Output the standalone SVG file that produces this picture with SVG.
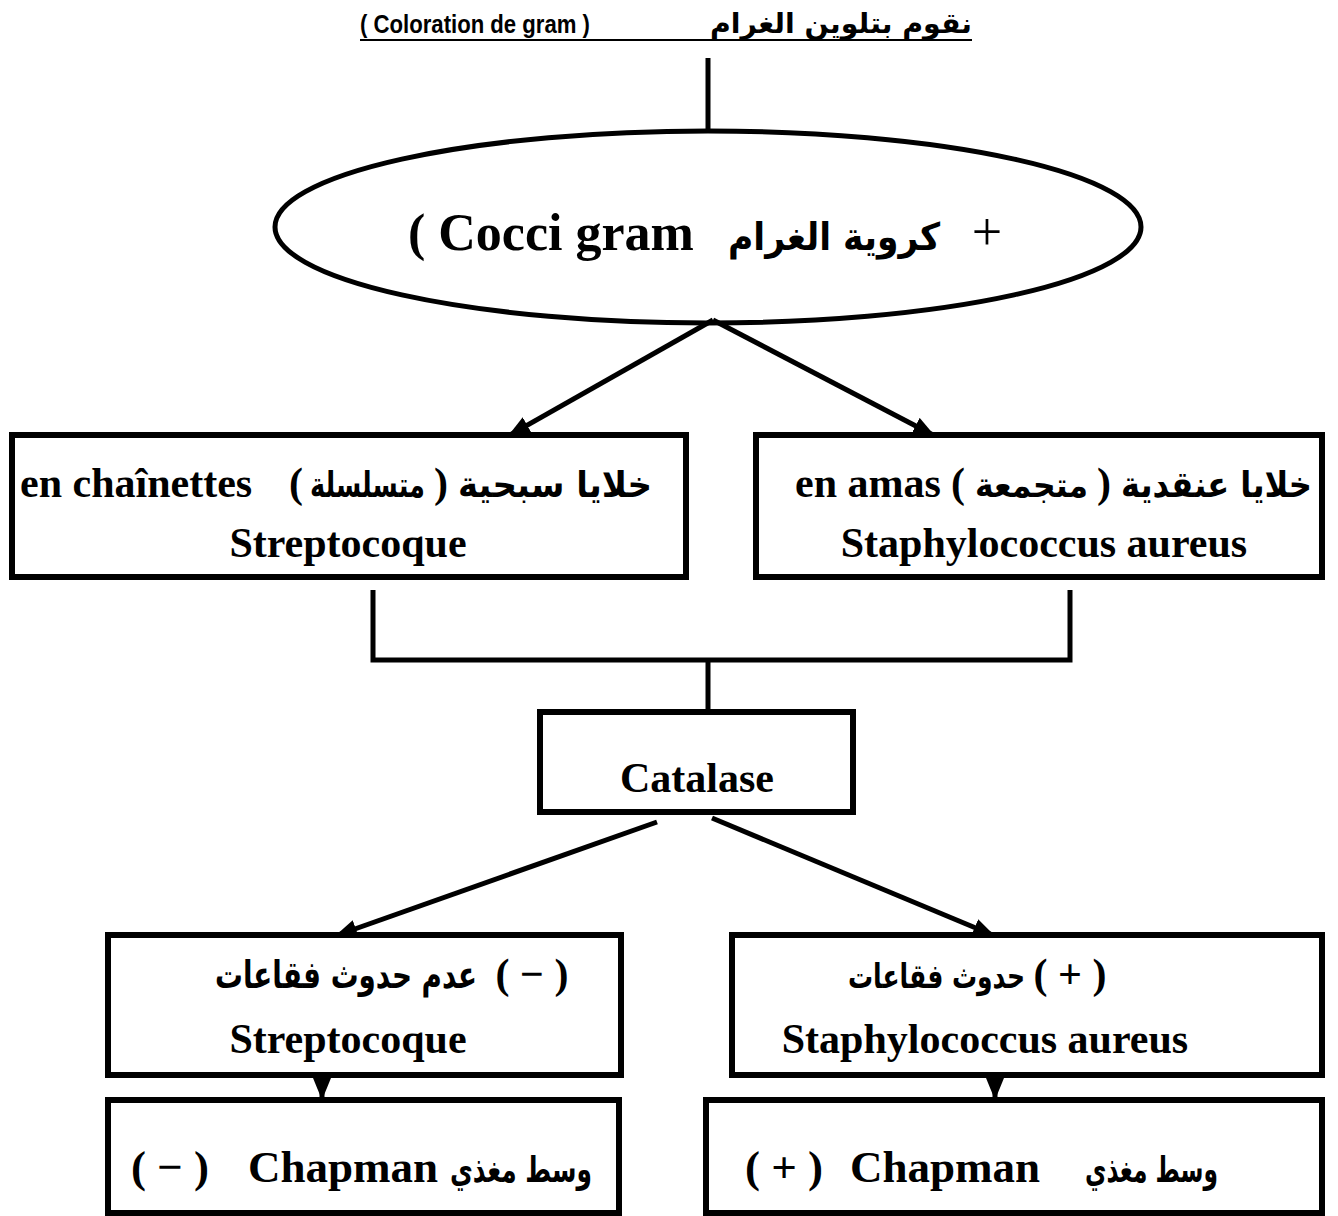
<svg xmlns="http://www.w3.org/2000/svg" width="1338" height="1216" viewBox="0 0 1338 1216">
  <style>
    .box { fill: #fff; stroke: #000; stroke-width: 6; }
    .ln { fill: none; stroke: #000; stroke-width: 5; }
    .lat { font-family: "Liberation Serif", "Times New Roman", serif; font-weight: bold; font-size: 42px; fill: #000; }
    .ar { font-family: "DejaVu Sans", sans-serif; font-weight: bold; font-size: 36px; fill: #000; }
    .ttl { font-family: "Liberation Sans", Arial, sans-serif; font-weight: bold; font-size: 26px; fill: #000; }
  </style>
  <defs>
    <marker id="ah" markerUnits="userSpaceOnUse" markerWidth="26" markerHeight="20" refX="22" refY="9" orient="auto">
      <path d="M0,0 L22,9 L0,18 z" fill="#000"/>
    </marker>
  </defs>
  <rect width="1338" height="1216" fill="#fff"/>

  <!-- title -->
  <g id="title">
    <text class="ttl" x="360" y="33" textLength="230" lengthAdjust="spacingAndGlyphs">( Coloration de gram )</text>
    <text class="ar" x="710" y="33" textLength="262" lengthAdjust="spacingAndGlyphs" style="font-size:28px">نقوم بتلوين الغرام</text>
    <line x1="360" y1="40" x2="972" y2="40" stroke="#000" stroke-width="2"/>
  </g>

  <!-- connectors -->
  <g id="connectors">
    <line class="ln" x1="708" y1="58" x2="708" y2="132"/>
    <line class="ln" x1="713" y1="320" x2="508" y2="436" marker-end="url(#ah)"/>
    <line class="ln" x1="713" y1="320" x2="935" y2="436" marker-end="url(#ah)"/>
    <polyline class="ln" points="373,590 373,660 1070,660 1070,590"/>
    <line class="ln" x1="708" y1="660" x2="708" y2="712"/>
    <line class="ln" x1="657" y1="822" x2="335" y2="936" marker-end="url(#ah)"/>
    <line class="ln" x1="712" y1="818" x2="995" y2="936" marker-end="url(#ah)"/>
    <line class="ln" x1="322" y1="1040" x2="322" y2="1100" marker-end="url(#ah)"/>
    <line class="ln" x1="995" y1="1040" x2="995" y2="1100" marker-end="url(#ah)"/>
  </g>

  <!-- Gram-positive cocci -->
  <g id="cocci">
    <ellipse cx="708" cy="227" rx="433" ry="96" fill="none" stroke="#000" stroke-width="5"/>
    <text class="lat" x="408" y="250" style="font-size:52px">( Cocci gram</text>
    <text class="ar" x="728" y="250" textLength="212" lengthAdjust="spacingAndGlyphs" style="font-size:38px">كروية الغرام</text>
    <text x="987" y="250" text-anchor="middle" style="font-family:'Liberation Serif',serif;font-size:54px">+</text>
  </g>

  <!-- chains -->
  <g id="chains">
    <rect class="box" x="12" y="435" width="674" height="142"/>
    <text class="lat" x="20" y="497">en chaînettes</text>
    <text class="lat" x="296" y="497" text-anchor="middle">(</text>
    <!-- taller glyphs: vertical stretch about the baseline -->
    <text class="ar" x="310" y="497" transform="matrix(1,0,0,1.3,0,-149.1)" textLength="115" lengthAdjust="spacingAndGlyphs" style="font-size:27px">متسلسلة</text>
    <text class="lat" x="441" y="497" text-anchor="middle">)</text>
    <text class="ar" x="458" y="497" textLength="194" lengthAdjust="spacingAndGlyphs">خلايا سبحية</text>
    <text class="lat" x="348" y="557" text-anchor="middle">Streptocoque</text>
  </g>

  <!-- clusters -->
  <g id="clusters">
    <rect class="box" x="756" y="435" width="566" height="142"/>
    <text class="lat" x="795" y="497">en amas</text>
    <text class="lat" x="958" y="497" text-anchor="middle">(</text>
    <text class="ar" x="975" y="497" textLength="113" lengthAdjust="spacingAndGlyphs" style="font-size:34px">متجمعة</text>
    <text class="lat" x="1104" y="497" text-anchor="middle">)</text>
    <text class="ar" x="1121" y="497" textLength="191" lengthAdjust="spacingAndGlyphs">خلايا عنقدية</text>
    <text class="lat" x="1044" y="557" text-anchor="middle">Staphylococcus aureus</text>
  </g>

  <!-- catalase test -->
  <g id="catalase">
    <rect class="box" x="540" y="712" width="313" height="100"/>
    <text class="lat" x="697" y="792" text-anchor="middle">Catalase</text>
  </g>

  <!-- no bubbles -->
  <g id="catalase-neg">
    <rect class="box" x="108" y="935" width="513" height="140"/>
    <text class="ar" x="215" y="988" transform="matrix(1,0,0,1.3,0,-296.4)" textLength="262" lengthAdjust="spacingAndGlyphs" style="font-size:29px">عدم حدوث فقاعات</text>
    <text class="lat" x="532" y="988" text-anchor="middle">( − )</text>
    <text class="lat" x="348" y="1053" text-anchor="middle">Streptocoque</text>
  </g>

  <!-- bubbles -->
  <g id="catalase-pos">
    <rect class="box" x="732" y="935" width="590" height="140"/>
    <text class="ar" x="848" y="988" transform="matrix(1,0,0,1.3,0,-296.4)" textLength="177" lengthAdjust="spacingAndGlyphs" style="font-size:26px">حدوث فقاعات</text>
    <text class="lat" x="1070" y="988" text-anchor="middle">( + )</text>
    <text class="lat" x="985" y="1053" text-anchor="middle">Staphylococcus aureus</text>
  </g>

  <!-- Chapman medium, negative -->
  <g id="chapman-neg">
    <rect class="box" x="108" y="1100" width="511" height="113"/>
    <text class="lat" x="170" y="1182" text-anchor="middle" style="font-size:45px">( − )</text>
    <text class="lat" x="248" y="1182" style="font-size:45px">Chapman</text>
    <text class="ar" x="450" y="1182" textLength="142" lengthAdjust="spacingAndGlyphs">وسط مغذي</text>
  </g>

  <!-- Chapman medium, positive -->
  <g id="chapman-pos">
    <rect class="box" x="706" y="1100" width="616" height="113"/>
    <text class="lat" x="784" y="1182" text-anchor="middle" style="font-size:45px">( + )</text>
    <text class="lat" x="850" y="1182" style="font-size:45px">Chapman</text>
    <text class="ar" x="1085" y="1182" textLength="133" lengthAdjust="spacingAndGlyphs">وسط مغذي</text>
  </g>
</svg>
